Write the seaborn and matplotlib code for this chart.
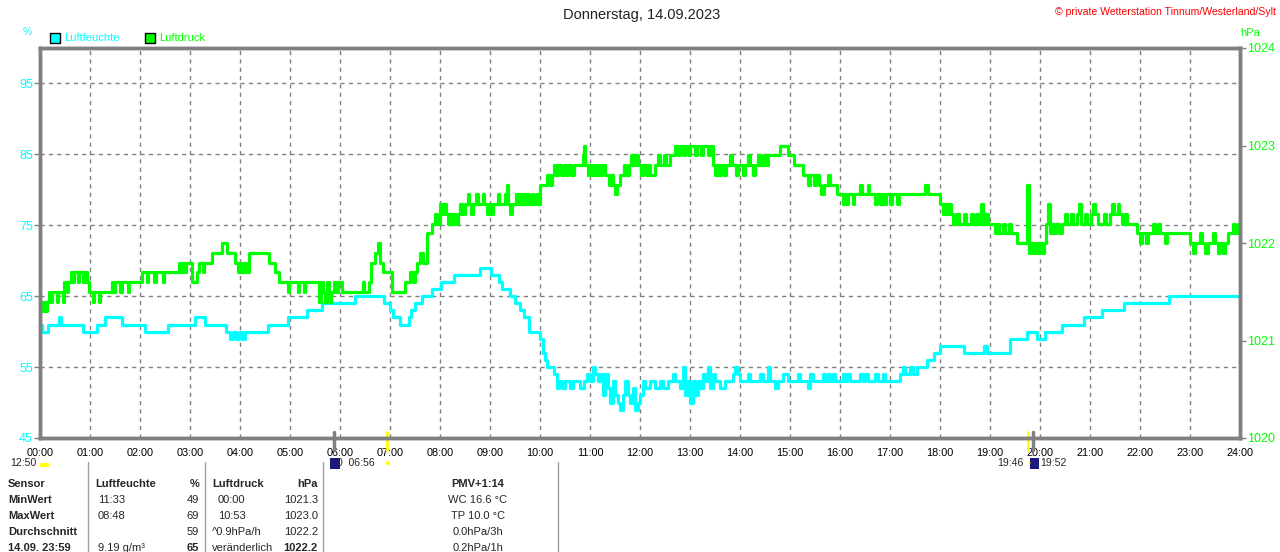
import matplotlib
matplotlib.use('Agg')
import matplotlib.pyplot as plt
import seaborn as sns
from matplotlib.patches import Rectangle

# Luftfeuchte (%) - (hour, value) readings, drawn as steps
hum_pts = [
  (0.00, 61), (0.04, 60), (0.16, 61), (0.38, 62), (0.42, 61), (0.86, 60), (1.14, 61),
  (1.30, 62), (1.64, 61), (2.10, 60), (2.56, 61), (3.10, 62), (3.30, 61), (3.72, 60),
  (3.80, 59), (3.86, 60), (3.92, 59), (3.98, 60), (4.04, 59), (4.10, 60), (4.56, 61),
  (4.96, 62), (5.34, 63), (5.64, 64), (6.30, 65), (6.88, 64), (7.00, 63), (7.06, 62),
  (7.20, 61), (7.38, 62), (7.42, 63), (7.50, 64), (7.63, 65), (7.83, 66), (8.03, 67),
  (8.27, 68), (8.80, 69), (9.03, 68), (9.17, 67), (9.23, 66), (9.40, 65), (9.50, 64),
  (9.60, 63), (9.67, 62), (9.77, 60), (10.00, 59), (10.05, 57), (10.10, 56), (10.13, 55),
  (10.27, 54), (10.33, 52), (10.38, 53), (10.43, 52), (10.50, 53), (10.60, 52), (10.65, 53),
  (10.80, 52), (10.87, 53), (10.93, 54), (11.00, 53), (11.05, 55), (11.10, 54), (11.15, 53),
  (11.20, 54), (11.25, 51), (11.30, 54), (11.35, 52), (11.40, 50), (11.45, 53), (11.50, 51),
  (11.55, 50), (11.60, 49), (11.65, 51), (11.70, 53), (11.75, 51), (11.80, 50), (11.85, 52),
  (11.90, 49), (11.95, 50), (12.00, 51), (12.05, 53), (12.10, 52), (12.20, 53), (12.30, 52),
  (12.40, 53), (12.45, 52), (12.55, 53), (12.65, 54), (12.70, 53), (12.80, 52), (12.85, 55),
  (12.90, 51), (12.95, 53), (13.00, 50), (13.05, 53), (13.10, 51), (13.15, 53), (13.20, 52),
  (13.25, 54), (13.30, 53), (13.35, 55), (13.40, 52), (13.45, 54), (13.50, 53), (13.60, 52),
  (13.70, 53), (13.85, 54), (13.90, 55), (13.95, 54), (14.00, 53), (14.15, 54), (14.20, 53),
  (14.40, 54), (14.45, 53), (14.55, 55), (14.60, 53), (14.70, 52), (14.75, 53), (14.85, 54),
  (14.95, 53), (15.15, 54), (15.20, 53), (15.35, 52), (15.40, 54), (15.45, 53), (15.65, 54),
  (15.70, 53), (15.75, 54), (15.80, 53), (15.85, 54), (15.90, 53), (16.05, 54), (16.10, 53),
  (16.15, 54), (16.20, 53), (16.40, 54), (16.45, 53), (16.50, 54), (16.55, 53), (16.70, 54),
  (16.75, 53), (16.85, 54), (16.90, 53), (17.20, 54), (17.25, 55), (17.30, 54), (17.40, 55),
  (17.45, 54), (17.53, 55), (17.73, 56), (17.87, 57), (18.00, 58), (18.47, 57), (18.87, 58),
  (18.93, 57), (19.40, 59), (19.73, 60), (19.93, 59), (20.10, 60), (20.43, 61), (20.87, 62),
  (21.23, 63), (21.67, 64), (22.57, 65), (24.00, 65),
]

# Luftdruck (hPa)
pres_pts = [
  (0.00, 1021.3), (0.03, 1021.4), (0.05, 1021.3), (0.08, 1021.4), (0.11, 1021.3), (0.14, 1021.4),
  (0.17, 1021.5), (0.20, 1021.4), (0.23, 1021.5), (0.33, 1021.4), (0.36, 1021.5), (0.45, 1021.4),
  (0.48, 1021.6), (0.53, 1021.5), (0.56, 1021.6), (0.62, 1021.7), (0.65, 1021.6), (0.68, 1021.7),
  (0.75, 1021.6), (0.78, 1021.7), (0.85, 1021.6), (0.90, 1021.7), (0.93, 1021.6), (0.97, 1021.5),
  (1.05, 1021.4), (1.08, 1021.5), (1.17, 1021.4), (1.20, 1021.5), (1.43, 1021.6), (1.47, 1021.5),
  (1.50, 1021.6), (1.60, 1021.5), (1.63, 1021.6), (1.75, 1021.5), (1.78, 1021.6), (2.03, 1021.7),
  (2.13, 1021.6), (2.16, 1021.7), (2.28, 1021.6), (2.31, 1021.7), (2.45, 1021.6), (2.48, 1021.7),
  (2.77, 1021.8), (2.80, 1021.7), (2.84, 1021.8), (2.88, 1021.7), (2.92, 1021.8), (3.03, 1021.6),
  (3.13, 1021.7), (3.17, 1021.8), (3.25, 1021.7), (3.28, 1021.8), (3.43, 1021.9), (3.63, 1022.0),
  (3.73, 1021.9), (3.90, 1021.8), (3.95, 1021.7), (3.99, 1021.8), (4.03, 1021.7), (4.07, 1021.8),
  (4.12, 1021.7), (4.17, 1021.9), (4.57, 1021.8), (4.70, 1021.7), (4.77, 1021.6), (4.95, 1021.5),
  (4.98, 1021.6), (5.15, 1021.5), (5.18, 1021.6), (5.27, 1021.5), (5.30, 1021.6), (5.58, 1021.4),
  (5.62, 1021.6), (5.66, 1021.5), (5.70, 1021.4), (5.74, 1021.6), (5.78, 1021.4), (5.82, 1021.5),
  (5.88, 1021.6), (5.92, 1021.5), (5.96, 1021.6), (6.03, 1021.5), (6.45, 1021.6), (6.48, 1021.5),
  (6.57, 1021.6), (6.62, 1021.8), (6.70, 1021.9), (6.75, 1022.0), (6.80, 1021.8), (6.85, 1021.7),
  (7.03, 1021.5), (7.30, 1021.6), (7.40, 1021.7), (7.45, 1021.6), (7.50, 1021.7), (7.53, 1021.8),
  (7.60, 1021.9), (7.65, 1021.8), (7.73, 1022.1), (7.83, 1022.2), (7.90, 1022.3), (7.94, 1022.2),
  (8.00, 1022.4), (8.05, 1022.3), (8.08, 1022.4), (8.12, 1022.3), (8.15, 1022.2), (8.19, 1022.3),
  (8.23, 1022.2), (8.27, 1022.3), (8.31, 1022.2), (8.35, 1022.3), (8.40, 1022.4), (8.45, 1022.3),
  (8.50, 1022.4), (8.55, 1022.5), (8.58, 1022.4), (8.62, 1022.3), (8.66, 1022.4), (8.72, 1022.5),
  (8.75, 1022.4), (8.85, 1022.5), (8.88, 1022.4), (8.94, 1022.3), (8.98, 1022.4), (9.02, 1022.3),
  (9.06, 1022.4), (9.15, 1022.5), (9.18, 1022.4), (9.30, 1022.5), (9.33, 1022.6), (9.36, 1022.4),
  (9.40, 1022.3), (9.44, 1022.4), (9.52, 1022.5), (9.55, 1022.4), (9.60, 1022.5), (9.63, 1022.4),
  (9.67, 1022.5), (9.70, 1022.4), (9.74, 1022.5), (9.78, 1022.4), (9.83, 1022.5), (9.86, 1022.4),
  (9.92, 1022.5), (9.95, 1022.4), (10.00, 1022.6), (10.13, 1022.7), (10.20, 1022.6), (10.24, 1022.7),
  (10.27, 1022.8), (10.32, 1022.7), (10.36, 1022.8), (10.42, 1022.7), (10.47, 1022.8), (10.52, 1022.7),
  (10.56, 1022.8), (10.62, 1022.7), (10.67, 1022.8), (10.85, 1022.9), (10.87, 1023.0), (10.90, 1022.8),
  (10.95, 1022.7), (10.99, 1022.8), (11.03, 1022.7), (11.07, 1022.8), (11.12, 1022.7), (11.16, 1022.8),
  (11.20, 1022.7), (11.24, 1022.8), (11.30, 1022.7), (11.38, 1022.6), (11.42, 1022.7), (11.46, 1022.6),
  (11.50, 1022.5), (11.53, 1022.6), (11.60, 1022.7), (11.68, 1022.8), (11.72, 1022.7), (11.78, 1022.8),
  (11.82, 1022.9), (11.86, 1022.8), (11.92, 1022.9), (11.96, 1022.8), (12.02, 1022.7), (12.06, 1022.8),
  (12.12, 1022.7), (12.16, 1022.8), (12.20, 1022.7), (12.30, 1022.8), (12.36, 1022.9), (12.40, 1022.8),
  (12.48, 1022.9), (12.52, 1022.8), (12.60, 1022.9), (12.70, 1023.0), (12.75, 1022.9), (12.80, 1023.0),
  (12.86, 1022.9), (12.90, 1023.0), (12.96, 1022.9), (13.00, 1023.0), (13.10, 1022.9), (13.14, 1023.0),
  (13.22, 1022.9), (13.26, 1023.0), (13.35, 1022.9), (13.40, 1023.0), (13.45, 1022.8), (13.50, 1022.7),
  (13.54, 1022.8), (13.58, 1022.7), (13.62, 1022.8), (13.68, 1022.7), (13.72, 1022.8), (13.80, 1022.9),
  (13.84, 1022.8), (13.92, 1022.7), (13.96, 1022.8), (14.05, 1022.7), (14.09, 1022.8), (14.15, 1022.9),
  (14.19, 1022.8), (14.25, 1022.7), (14.29, 1022.8), (14.35, 1022.9), (14.39, 1022.8), (14.46, 1022.9),
  (14.50, 1022.8), (14.55, 1022.9), (14.80, 1023.0), (14.95, 1022.9), (15.07, 1022.8), (15.25, 1022.7),
  (15.35, 1022.6), (15.40, 1022.7), (15.48, 1022.6), (15.52, 1022.7), (15.58, 1022.6), (15.62, 1022.5),
  (15.67, 1022.6), (15.75, 1022.7), (15.80, 1022.6), (15.93, 1022.5), (16.05, 1022.4), (16.08, 1022.5),
  (16.12, 1022.4), (16.16, 1022.5), (16.25, 1022.4), (16.28, 1022.5), (16.40, 1022.6), (16.44, 1022.5),
  (16.55, 1022.6), (16.58, 1022.5), (16.70, 1022.4), (16.73, 1022.5), (16.80, 1022.4), (16.84, 1022.5),
  (16.88, 1022.4), (16.92, 1022.5), (17.00, 1022.4), (17.04, 1022.5), (17.15, 1022.4), (17.18, 1022.5),
  (17.70, 1022.6), (17.75, 1022.5), (18.00, 1022.4), (18.06, 1022.3), (18.10, 1022.4), (18.14, 1022.3),
  (18.18, 1022.4), (18.22, 1022.3), (18.26, 1022.2), (18.33, 1022.3), (18.37, 1022.2), (18.48, 1022.3),
  (18.52, 1022.2), (18.62, 1022.3), (18.66, 1022.2), (18.72, 1022.3), (18.76, 1022.2), (18.82, 1022.4),
  (18.86, 1022.2), (18.92, 1022.3), (18.96, 1022.2), (19.10, 1022.1), (19.14, 1022.2), (19.18, 1022.1),
  (19.25, 1022.2), (19.30, 1022.1), (19.38, 1022.2), (19.42, 1022.1), (19.53, 1022.0), (19.74, 1022.6),
  (19.78, 1021.9), (19.82, 1022.0), (19.86, 1021.9), (19.90, 1022.0), (19.94, 1021.9), (19.98, 1022.0),
  (20.04, 1021.9), (20.08, 1022.0), (20.12, 1022.2), (20.16, 1022.4), (20.19, 1022.1), (20.24, 1022.2),
  (20.28, 1022.1), (20.32, 1022.2), (20.38, 1022.1), (20.44, 1022.2), (20.50, 1022.3), (20.54, 1022.2),
  (20.62, 1022.3), (20.66, 1022.2), (20.74, 1022.3), (20.78, 1022.4), (20.82, 1022.2), (20.90, 1022.3),
  (20.94, 1022.2), (21.02, 1022.3), (21.06, 1022.4), (21.10, 1022.3), (21.16, 1022.2), (21.28, 1022.3),
  (21.32, 1022.2), (21.40, 1022.3), (21.44, 1022.4), (21.48, 1022.3), (21.55, 1022.4), (21.58, 1022.3),
  (21.64, 1022.2), (21.70, 1022.3), (21.74, 1022.2), (21.93, 1022.1), (22.00, 1022.0), (22.04, 1022.1),
  (22.12, 1022.0), (22.16, 1022.1), (22.25, 1022.2), (22.29, 1022.1), (22.36, 1022.2), (22.40, 1022.1),
  (22.50, 1022.0), (22.54, 1022.1), (23.00, 1022.0), (23.05, 1021.9), (23.10, 1022.0), (23.20, 1022.1),
  (23.24, 1022.0), (23.30, 1021.9), (23.35, 1022.0), (23.45, 1022.1), (23.49, 1022.0), (23.55, 1021.9),
  (23.60, 1022.0), (23.66, 1021.9), (23.70, 1022.0), (23.75, 1022.1), (23.85, 1022.2), (23.90, 1022.1),
  (23.95, 1022.2), (24.00, 1022.2),
]

hum_t = [p[0] for p in hum_pts]
hum_v = [p[1] for p in hum_pts]
pres_t = [p[0] for p in pres_pts]
pres_v = [p[1] for p in pres_pts]

hour_labels = ['%02d:00' % h for h in range(25)]
hum_ticks = [45, 55, 65, 75, 85, 95]
pres_ticks = [1020, 1021, 1022, 1023, 1024]

# sun / moon marks (hours)
sun_marks = [6.933, 19.767]
moon_marks = [5.883, 19.867]

CYAN = '#00ffff'
GREEN = '#00ff00'
GRAY = '#808080'

sns.set_theme(style='white')
plt.rcParams['font.family'] = ['Liberation Sans', 'DejaVu Sans']

W, H = 1280, 552
def px(x, y):
  return x / W, 1 - y / H

fig = plt.figure(figsize=(12.8, 5.52), dpi=100)
ax = fig.add_axes([40 / W, (H - 438) / H, 1200 / W, 390 / H])
ax.set_facecolor('white')

sns.lineplot(x=hum_t, y=hum_v, ax=ax, color=CYAN, lw=2.3, drawstyle='steps-post')
ax.set_xlim(0, 24)
ax.set_ylim(45, 100)
ax.set_xticks(range(25))
ax.set_xticklabels(hour_labels, fontsize=7.8, color='black')
ax.set_yticks(hum_ticks)
ax.set_yticklabels([str(v) for v in hum_ticks], fontsize=9, color=CYAN)
ax.tick_params(axis='x', length=0, pad=7)
ax.tick_params(axis='y', length=4, width=1, color=GRAY, pad=1, direction='out')
ax.grid(True, color=GRAY, linestyle=(0, (3, 3)), lw=1)
ax.set_axisbelow(True)
for s in ax.spines.values():
  s.set_color(GRAY)
  s.set_linewidth(2.5)

ax2 = ax.twinx()
sns.lineplot(x=pres_t, y=pres_v, ax=ax2, color=GREEN, lw=2.3, drawstyle='steps-post')
ax2.set_ylim(1020, 1024)
ax2.set_yticks(pres_ticks)
ax2.set_yticklabels([str(v) for v in pres_ticks], fontsize=9, color=GREEN)
ax2.tick_params(axis='y', length=4, width=1, color=GRAY, pad=1, direction='out')
ax2.grid(False)
for s in ax2.spines.values():
  s.set_color(GRAY)
  s.set_linewidth(2.5)
ax.set_xlabel('')
ax.set_ylabel('')
ax2.set_ylabel('')

# sun / moon ticks below the axis
for t in sun_marks:
  ax.plot([t, t], [0.015, -0.03], color='#ffff00', lw=2, transform=ax.get_xaxis_transform(), clip_on=False)
for t in moon_marks:
  ax.plot([t, t], [0.015, -0.03], color=GRAY, lw=2.5, transform=ax.get_xaxis_transform(), clip_on=False)

# header texts
fig.text(*px(642, 15), 'Donnerstag, 14.09.2023', ha='center', va='center', fontsize=10.5, color='#222222')
fig.text(*px(1276, 12), '\u00a9 private Wetterstation Tinnum/Westerland/Sylt', ha='right', va='center',
         fontsize=7.6, color='#ff0000')
fig.text(*px(27, 32), '%', ha='center', va='center', fontsize=7.5, color=CYAN)
fig.text(*px(1250, 33), 'hPa', ha='center', va='center', fontsize=8, color=GREEN)

# legend
fig.patches.append(Rectangle(px(50, 43), 10 / W, 10 / H, facecolor=CYAN, edgecolor='black', lw=1,
                             transform=fig.transFigure))
fig.text(*px(64, 38), 'Luftfeuchte', va='center', fontsize=8, color=CYAN)
fig.patches.append(Rectangle(px(145, 43), 10 / W, 10 / H, facecolor=GREEN, edgecolor='black', lw=1,
                             transform=fig.transFigure))
fig.text(*px(159, 38), 'Luftdruck', va='center', fontsize=8, color=GREEN)

# sunrise / moon line
fig.text(*px(10, 463), '12:50', va='center', fontsize=7.6)
fig.patches.append(Rectangle(px(40, 467), 9 / W, 4 / H, facecolor='#ffff00', lw=0, transform=fig.transFigure))
fig.patches.append(Rectangle(px(330, 469), 10 / W, 11 / H, facecolor='#1a1a80', lw=0, transform=fig.transFigure))
fig.text(*px(337, 463), '0  06:56', va='center', fontsize=7.6)
fig.text(*px(387, 463), '\u25cf', ha='center', va='center', fontsize=7, color='#ffff00')
fig.text(*px(1024, 463), '19:46', ha='right', va='center', fontsize=7.6)
fig.text(*px(1029, 463), '\u25d7', ha='center', va='center', fontsize=6, color='#ffff00')
fig.patches.append(Rectangle(px(1030, 469), 9 / W, 11 / H, facecolor='#1a1a80', lw=0, transform=fig.transFigure))
fig.text(*px(1040, 463), '19:52', va='center', fontsize=7.6)

# table
for xs in [88, 205, 323, 558]:
  fig.add_artist(plt.Line2D([xs / W, xs / W], [1 - 462 / H, 0], color='#a0a0a0', lw=1))

rows_y = [484, 500, 516, 532, 548]
labels = ['Sensor', 'MinWert', 'MaxWert', 'Durchschnitt', '14.09. 23:59']
hum_time = ['Luftfeuchte', '11:33', '08:48', '', '9.19 g/m\u00b3']
hum_val = ['%', '49', '69', '59', '65']
pres_time = ['Luftdruck', '00:00', '10:53', '^0.9hPa/h', 'ver\u00e4nderlich']
pres_val = ['hPa', '1021.3', '1023.0', '1022.2', '1022.2']
pmv = ['PMV+1:14', 'WC 16.6 \u00b0C', 'TP 10.0 \u00b0C', '0.0hPa/3h', '0.2hPa/1h']

for i, y in enumerate(rows_y):
  head = i == 0
  fig.text(*px(8, y), labels[i], va='center', fontsize=8, weight='bold')
  fig.text(*px(95 if head else 98, y), hum_time[i], va='center', fontsize=8,
           weight='bold' if head else 'normal')
  fig.text(*px(199, y), hum_val[i], ha='right', va='center', fontsize=8,
           weight='bold' if head or i == 4 else 'normal')
  fig.text(*px(212 if head or i >= 3 else 218, y), pres_time[i], va='center', fontsize=8,
           weight='bold' if head else 'normal')
  fig.text(*px(318, y), pres_val[i], ha='right', va='center', fontsize=8,
           weight='bold' if head or i == 4 else 'normal')
  fig.text(*px(478, y), pmv[i], ha='center', va='center', fontsize=8,
           weight='bold' if head else 'normal')

fig.savefig('out.png', dpi=100, facecolor='white')
